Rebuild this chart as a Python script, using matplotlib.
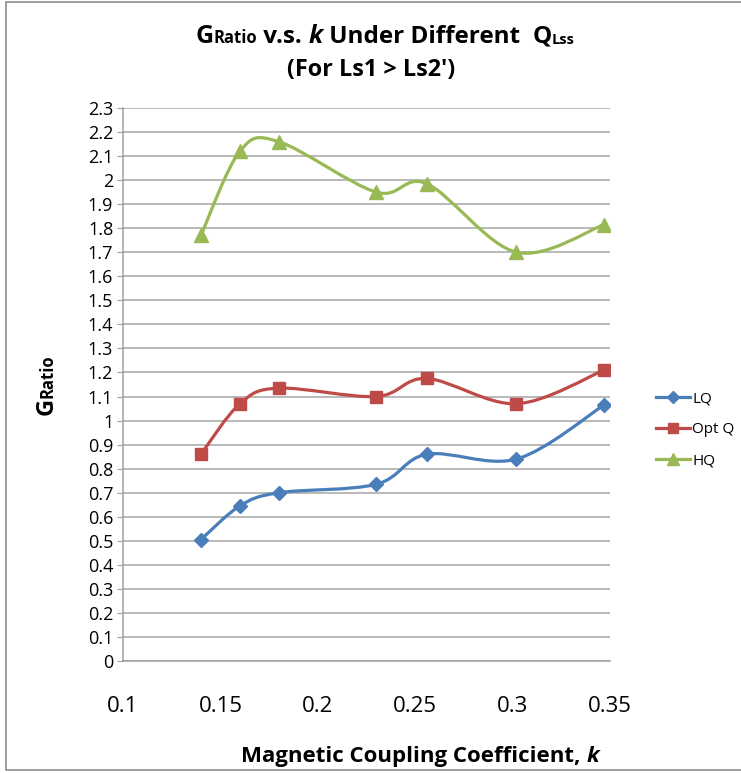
import matplotlib
matplotlib.use("Agg")
import matplotlib.pyplot as plt
import numpy as np
from matplotlib.path import Path
from matplotlib.patches import PathPatch
from matplotlib.lines import Line2D

plt.rcParams['font.family'] = ['Open Sans', 'DejaVu Sans']

# data
k_values = [0.140, 0.160, 0.180, 0.230, 0.256, 0.302, 0.347]
lq = [0.505, 0.645, 0.700, 0.735, 0.860, 0.840, 1.065]
opt_q = [0.860, 1.070, 1.135, 1.100, 1.175, 1.070, 1.210]
hq = [1.770, 2.120, 2.160, 1.950, 1.985, 1.700, 1.815]

series_names = ['LQ', 'Opt Q', 'HQ']
series_colors = ['#4A7EBB', '#BE4B48', '#98B954']
series_markers = ['D', 's', '^']
marker_sizes = [7, 8.5, 9.5]

x_ticks = [0.1, 0.15, 0.2, 0.25, 0.3, 0.35]
y_ticks = np.round(np.arange(0, 2.31, 0.1), 1)

W, H = 741, 773


def smooth_path(xs, ys):
    # Excel-like smoothed line: cubic bezier through the points
    pts = np.column_stack([xs, ys])
    n = len(pts)
    verts = [pts[0]]
    codes = [Path.MOVETO]
    for i in range(n - 1):
        p0 = pts[max(i - 1, 0)]
        p1 = pts[i]
        p2 = pts[i + 1]
        p3 = pts[min(i + 2, n - 1)]
        c1 = p1 + (p2 - p0) / 6.0
        c2 = p2 - (p3 - p1) / 6.0
        verts += [c1, c2, p2]
        codes += [Path.CURVE4] * 3
    return Path(verts, codes)


def place_pieces(fig, renderer, pieces, center, base, rotated=False):
    # pieces: (text, size, style, shift); center/base in pixels from top-left
    texts = []
    for s, size, style, shift in pieces:
        t = fig.text(0, 0, s, fontsize=size, fontweight='bold', fontstyle=style,
                     ha='left', va='baseline', rotation=90 if rotated else 0,
                     rotation_mode='anchor', transform=None)
        texts.append(t)
    sizes = []
    for t in texts:
        bb = t.get_window_extent(renderer)
        sizes.append(bb.height if rotated else bb.width)
    total = sum(sizes)
    offset = 0.0
    for t, sz, p in zip(texts, sizes, pieces):
        if rotated:
            # text runs upward from the bottom end, baseline on the right
            t.set_position((base + p[3], H - (center + total / 2.0) + offset))
        else:
            t.set_position((center - total / 2.0 + offset, H - base - p[3]))
        offset += sz
    return texts


fig = plt.figure(figsize=(W / 100, H / 100), dpi=100)
ax = fig.add_axes([123 / W, 1 - 661 / H, (610 - 123) / W, (661 - 108) / H])

for ys, name, c, m, ms in zip([lq, opt_q, hq], series_names, series_colors,
                              series_markers, marker_sizes):
    ax.add_patch(PathPatch(smooth_path(k_values, ys), facecolor='none',
                           edgecolor=c, lw=2.3, zorder=3))
    ax.plot(k_values, ys, linestyle='none', marker=m, markersize=ms,
            color=c, markeredgecolor=c, zorder=4, label=name)

ax.set_xlim(0.1, 0.35)
ax.set_ylim(0, 2.3)
ax.set_xticks(x_ticks)
ax.set_xticklabels([f'{v:g}' for v in x_ticks], fontsize=16)
ax.set_yticks(y_ticks)
ax.set_yticklabels([f'{v:g}' for v in y_ticks], fontsize=13)
ax.tick_params(axis='x', length=0, pad=25)
ax.tick_params(axis='y', length=4, color='#a0a0a0', pad=3)
ax.grid(axis='y', color='#a6a6a6', lw=1.1)
ax.set_axisbelow(True)
for side in ['top', 'right']:
    ax.spines[side].set_visible(False)
for side in ['left', 'bottom']:
    ax.spines[side].set_color('#a0a0a0')
    ax.spines[side].set_linewidth(1.1)

handles = [Line2D([0], [0], color=c, lw=2.3, marker=m, markersize=ms * 0.9)
           for c, m, ms in zip(series_colors, series_markers, marker_sizes)]
fig.legend(handles, series_names, loc='upper left',
           bbox_to_anchor=(650 / W, 1 - 385 / H), frameon=False, fontsize=11,
           handlelength=2.2, handletextpad=0.15, labelspacing=1.05,
           borderaxespad=0)

# outer chart border (left, top, bottom)
border_x = [W + 5, 6, 6, W + 5]
border_y = [H - 2, H - 2, 3, 3]
fig.add_artist(Line2D(np.array(border_x) / W, np.array(border_y) / H,
                      transform=fig.transFigure, color='#8c8c8c', lw=1.2))

fig.canvas.draw()
renderer = fig.canvas.get_renderer()

title1 = [('G', 18, 'normal', 0), ('Ratio', 12, 'normal', 0),
          (' v.s. ', 17.5, 'normal', 0), ('k', 18, 'italic', 0),
          (' Under Different  ', 17.5, 'normal', 0),
          ('Q', 17.5, 'normal', 0), ('Lss', 10.5, 'normal', 1)]
place_pieces(fig, renderer, title1, 385, 43)
place_pieces(fig, renderer, [("(For Ls1 > Ls2')", 16.8, 'normal', 0)], 371, 76)

xlabel = [('Magnetic Coupling Coefficient, ', 16, 'normal', 0),
          ('k', 16, 'italic', 0)]
place_pieces(fig, renderer, xlabel, 420, 762)

ylabel = [('G', 17, 'normal', 0), ('Ratio', 12, 'normal', 0)]
place_pieces(fig, renderer, ylabel, 385, 53, rotated=True)

fig.savefig('out.png', dpi=100)
